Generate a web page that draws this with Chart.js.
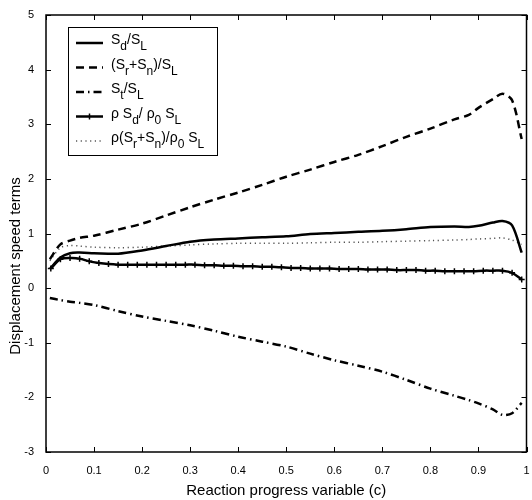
<!DOCTYPE html>
<html>
<head>
<meta charset="utf-8">
<script src="https://cdn.jsdelivr.net/npm/chart.js@4"></script>
<style>
  html, body { margin: 0; padding: 0; background: #fff; }
  #wrap { width: 532px; height: 500px; }
</style>
</head>
<body>
<div id="wrap"><canvas id="chart" width="532" height="500"></canvas></div>
<script>
// reaction progress variable samples
const cGrid = [0.008, 0.03, 0.05, 0.07, 0.1, 0.15, 0.2, 0.25, 0.3, 0.35, 0.4, 0.45, 0.5,
  0.55, 0.6, 0.65, 0.7, 0.75, 0.8, 0.85, 0.88, 0.9, 0.93, 0.95, 0.97, 0.99];
const sdSl = [0.35, 0.56, 0.64, 0.65, 0.64, 0.63, 0.69, 0.77, 0.85, 0.89, 0.91, 0.93, 0.95,
  0.99, 1.01, 1.03, 1.05, 1.08, 1.12, 1.13, 1.12, 1.14, 1.20, 1.23, 1.15, 0.65];
const srSnSl = [0.53, 0.80, 0.87, 0.92, 0.96, 1.07, 1.18, 1.33, 1.48, 1.62, 1.75, 1.89, 2.04,
  2.17, 2.31, 2.44, 2.60, 2.77, 2.92, 3.09, 3.17, 3.30, 3.46, 3.56, 3.44, 2.73];
const stSl = [-0.18, -0.22, -0.25, -0.27, -0.31, -0.42, -0.52, -0.60, -0.68, -0.78, -0.89, -0.98, -1.07,
  -1.20, -1.32, -1.42, -1.53, -1.68, -1.84, -1.97, -2.05, -2.11, -2.22, -2.32, -2.29, -2.10];
const rhoSrSn = [0.50, 0.74, 0.78, 0.77, 0.75, 0.74, 0.75, 0.77, 0.79, 0.81, 0.82, 0.82, 0.82,
  0.83, 0.84, 0.84, 0.85, 0.86, 0.87, 0.88, 0.89, 0.90, 0.91, 0.92, 0.88, 0.80];

// marked curve has its own sampling
const cMark = [0.01, 0.03, 0.05, 0.07, 0.09, 0.11, 0.13, 0.15, 0.17, 0.19, 0.21, 0.23, 0.25,
  0.27, 0.29, 0.31, 0.33, 0.35, 0.37, 0.39, 0.41, 0.43, 0.45, 0.47, 0.49, 0.51, 0.53, 0.55,
  0.57, 0.59, 0.61, 0.63, 0.65, 0.67, 0.69, 0.71, 0.73, 0.75, 0.77, 0.79, 0.81, 0.83, 0.85,
  0.87, 0.89, 0.91, 0.93, 0.95, 0.97, 0.99];
const rhoSd = [0.36, 0.53, 0.55, 0.54, 0.49, 0.46, 0.44, 0.43, 0.43, 0.43, 0.43, 0.43, 0.43,
  0.43, 0.43, 0.43, 0.42, 0.42, 0.41, 0.41, 0.40, 0.40, 0.39, 0.39, 0.38, 0.37, 0.37, 0.36,
  0.36, 0.36, 0.35, 0.35, 0.35, 0.34, 0.34, 0.34, 0.33, 0.33, 0.33, 0.32, 0.32, 0.31, 0.31,
  0.31, 0.31, 0.32, 0.32, 0.32, 0.28, 0.16];

const xTicks = [0, 0.1, 0.2, 0.3, 0.4, 0.5, 0.6, 0.7, 0.8, 0.9, 1];
const yTicks = [-3, -2, -1, 0, 1, 2, 3, 4, 5];
const yTitle = 'Displacement speed terms';

// legend text: [text, isSubscript]
const legendLabels = [
  [['S', 0], ['d', 1], ['/S', 0], ['L', 1]],
  [['(S', 0], ['r', 1], ['+S', 0], ['n', 1], [')/S', 0], ['L', 1]],
  [['S', 0], ['t', 1], ['/S', 0], ['L', 1]],
  [['ρ S', 0], ['d', 1], ['/ ρ', 0], ['0', 1], [' S', 0], ['L', 1]],
  [['ρ(S', 0], ['r', 1], ['+S', 0], ['n', 1], [')/ρ', 0], ['0', 1], [' S', 0], ['L', 1]]
];

const FONT = '"Liberation Sans", Arial, Helvetica, sans-serif';

function pts(xs, ys) { return xs.map((x, i) => ({ x: x, y: ys[i] })); }

const styles = [
  { color: '#000', width: 2.5, dash: [] },
  { color: '#000', width: 2.5, dash: [8, 5] },
  { color: '#000', width: 2.5, dash: [8, 4, 1.5, 4] },
  { color: '#000', width: 2.5, dash: [], marker: true },
  { color: '#555', width: 1.5, dash: [1.2, 3.5] }
];

const boxPlugin = {
  id: 'boxPlugin',
  afterDraw(chart) {
    const ctx = chart.ctx;
    const a = chart.chartArea;
    const xs = chart.scales.x, ys = chart.scales.y;
    ctx.save();
    ctx.strokeStyle = '#000';
    ctx.lineWidth = 1;
    ctx.setLineDash([]);
    ctx.beginPath();
    xTicks.forEach(v => {
      const px = Math.round(xs.getPixelForValue(v)) + 0.5;
      ctx.moveTo(px, a.bottom); ctx.lineTo(px, a.bottom - 5);
      ctx.moveTo(px, a.top); ctx.lineTo(px, a.top + 5);
    });
    yTicks.forEach(v => {
      const py = Math.round(ys.getPixelForValue(v)) + 0.5;
      ctx.moveTo(a.left, py); ctx.lineTo(a.left + 5, py);
      ctx.moveTo(a.right, py); ctx.lineTo(a.right - 5, py);
    });
    ctx.stroke();
    ctx.lineWidth = 1.5;
    ctx.strokeRect(a.left, a.top, a.right - a.left, a.bottom - a.top);

    // y axis title, sitting a little below the axis centre as in the source figure
    ctx.save();
    ctx.translate(16, 266);
    ctx.rotate(-Math.PI / 2);
    ctx.font = '15px ' + FONT;
    ctx.fillStyle = '#000';
    ctx.textAlign = 'center';
    ctx.textBaseline = 'middle';
    ctx.fillText(yTitle, 0, 0);
    ctx.restore();

    // legend
    const lx = 68, ly = 27, lw = 149, lh = 128;
    ctx.fillStyle = '#fff';
    ctx.fillRect(lx, ly, lw, lh);
    ctx.lineWidth = 1;
    ctx.strokeRect(lx + 0.5, ly + 0.5, lw, lh);
    legendLabels.forEach((segs, i) => {
      const y = 43 + i * 24.5;
      const st = styles[i];
      ctx.strokeStyle = st.color;
      ctx.lineWidth = st.width;
      ctx.setLineDash(st.dash);
      ctx.beginPath();
      ctx.moveTo(76, y); ctx.lineTo(103, y);
      ctx.stroke();
      ctx.setLineDash([]);
      if (st.marker) {
        ctx.lineWidth = 1.5;
        ctx.beginPath();
        ctx.moveTo(89.5, y - 3); ctx.lineTo(89.5, y + 3);
        ctx.stroke();
      }
      let x = 111;
      ctx.fillStyle = '#000';
      ctx.textBaseline = 'alphabetic';
      ctx.textAlign = 'left';
      segs.forEach(([t, sub]) => {
        ctx.font = (sub ? '12px ' : '14px ') + FONT;
        ctx.fillText(t, x, sub ? y + 7 : y + 1);
        x += ctx.measureText(t).width;
      });
    });
    ctx.restore();
  }
};

const line = (data, st) => ({
  data: data,
  borderColor: st.color,
  backgroundColor: st.color,
  borderWidth: st.width,
  borderDash: st.dash,
  tension: 0.3,
  pointRadius: st.marker ? 3 : 0,
  pointStyle: 'cross',
  pointBorderWidth: 1.5,
  fill: false
});

new Chart(document.getElementById('chart'), {
  type: 'line',
  data: {
    datasets: [
      line(pts(cGrid, sdSl), styles[0]),
      line(pts(cGrid, srSnSl), styles[1]),
      line(pts(cGrid, stSl), styles[2]),
      line(pts(cMark, rhoSd), styles[3]),
      line(pts(cGrid, rhoSrSn), styles[4])
    ]
  },
  options: {
    responsive: false,
    animation: false,
    events: [],
    layout: { padding: { top: 15, right: 3, left: 0, bottom: 0 } },
    plugins: { legend: { display: false }, tooltip: { enabled: false } },
    scales: {
      x: {
        type: 'linear',
        min: 0, max: 1,
        grid: { display: false },
        border: { display: false },
        afterBuildTicks: s => { s.ticks = xTicks.map(v => ({ value: v })); },
        ticks: {
          color: '#000', padding: 4, maxRotation: 0,
          font: { family: FONT, size: 11 },
          callback: v => String(v)
        },
        title: {
          display: true, text: 'Reaction progress variable (c)', color: '#000',
          font: { family: FONT, size: 15 }, padding: { top: 6, bottom: 0 }
        },
        afterFit: s => { s.height = 48; s.paddingLeft = 0; s.paddingRight = 0; }
      },
      y: {
        min: -3, max: 5,
        grid: { display: false },
        border: { display: false },
        afterBuildTicks: s => { s.ticks = yTicks.map(v => ({ value: v })); },
        ticks: {
          color: '#000', padding: 4,
          font: { family: FONT, size: 11 },
          callback: v => String(v)
        },
        afterFit: s => { s.width = 46; }
      }
    }
  },
  plugins: [boxPlugin]
});
</script>
</body>
</html>
